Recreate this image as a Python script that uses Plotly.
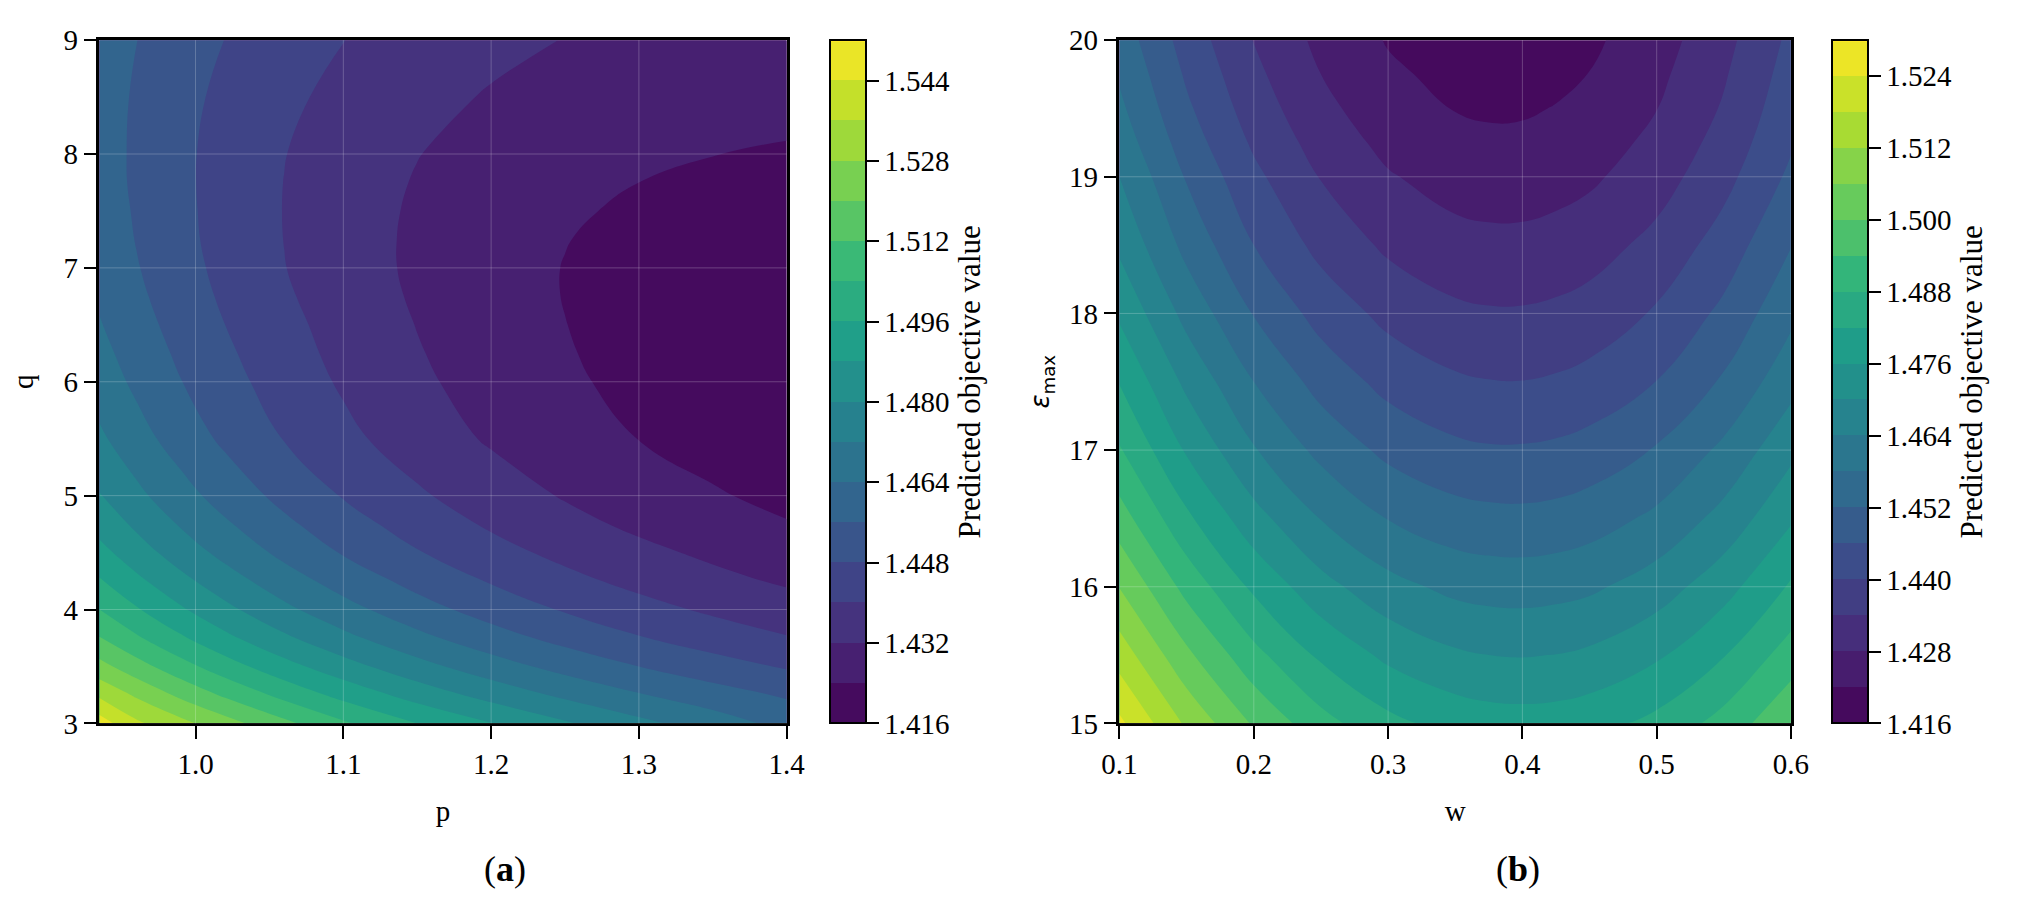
import plotly.graph_objects as go

# panel (a): q (rows) by p (columns), values
p_vals = [0.935, 0.96, 0.99, 1.02, 1.06, 1.10, 1.15, 1.20, 1.25, 1.30, 1.35, 1.40]
q_vals = [3.0, 3.25, 3.5, 3.75, 4.0, 4.25, 4.5, 4.75, 5.0, 5.5, 6.0, 6.25, 6.5, 6.75,
          7.0, 7.25, 7.5, 7.75, 8.0, 8.5, 9.0]
z_a = [
    [1.5480, 1.5375, 1.5304, 1.5233, 1.5140, 1.5051, 1.4960, 1.4883, 1.4810, 1.4741, 1.4680, 1.4615],
    [1.5345, 1.5268, 1.5183, 1.5107, 1.5016, 1.4935, 1.4847, 1.4771, 1.4704, 1.4646, 1.4595, 1.4550],
    [1.5227, 1.5152, 1.5070, 1.4996, 1.4908, 1.4831, 1.4747, 1.4675, 1.4613, 1.4560, 1.4513, 1.4472],
    [1.5124, 1.5051, 1.4971, 1.4899, 1.4814, 1.4741, 1.4661, 1.4593, 1.4535, 1.4485, 1.4442, 1.4405],
    [1.5040, 1.4968, 1.4890, 1.4820, 1.4738, 1.4667, 1.4591, 1.4527, 1.4473, 1.4427, 1.4387, 1.4354],
    [1.4968, 1.4898, 1.4822, 1.4755, 1.4676, 1.4608, 1.4535, 1.4474, 1.4422, 1.4378, 1.4341, 1.4310],
    [1.4905, 1.4836, 1.4762, 1.4697, 1.4620, 1.4554, 1.4485, 1.4427, 1.4379, 1.4339, 1.4305, 1.4277],
    [1.4851, 1.4785, 1.4713, 1.4650, 1.4576, 1.4512, 1.4445, 1.4389, 1.4343, 1.4304, 1.4271, 1.4244],
    [1.4804, 1.4739, 1.4670, 1.4608, 1.4537, 1.4475, 1.4411, 1.4358, 1.4314, 1.4277, 1.4247, 1.4222],
    [1.4734, 1.4671, 1.4604, 1.4545, 1.4477, 1.4420, 1.4360, 1.4311, 1.4271, 1.4239, 1.4213, 1.4192],
    [1.4683, 1.4624, 1.4562, 1.4507, 1.4444, 1.4390, 1.4334, 1.4288, 1.4251, 1.4221, 1.4197, 1.4177],
    [1.4663, 1.4606, 1.4546, 1.4493, 1.4431, 1.4379, 1.4325, 1.4281, 1.4245, 1.4216, 1.4192, 1.4173],
    [1.4645, 1.4590, 1.4531, 1.4480, 1.4421, 1.4370, 1.4318, 1.4276, 1.4241, 1.4213, 1.4190, 1.4172],
    [1.4630, 1.4576, 1.4518, 1.4468, 1.4410, 1.4361, 1.4311, 1.4271, 1.4238, 1.4212, 1.4191, 1.4175],
    [1.4618, 1.4565, 1.4508, 1.4459, 1.4402, 1.4355, 1.4307, 1.4269, 1.4238, 1.4214, 1.4195, 1.4181],
    [1.4609, 1.4557, 1.4501, 1.4453, 1.4399, 1.4354, 1.4307, 1.4271, 1.4242, 1.4220, 1.4203, 1.4191],
    [1.4603, 1.4552, 1.4498, 1.4451, 1.4398, 1.4354, 1.4310, 1.4276, 1.4249, 1.4229, 1.4215, 1.4204],
    [1.4599, 1.4547, 1.4496, 1.4450, 1.4399, 1.4357, 1.4315, 1.4283, 1.4258, 1.4240, 1.4226, 1.4218],
    [1.4596, 1.4547, 1.4496, 1.4452, 1.4402, 1.4362, 1.4322, 1.4292, 1.4269, 1.4253, 1.4241, 1.4234],
    [1.4596, 1.4551, 1.4503, 1.4462, 1.4416, 1.4379, 1.4342, 1.4314, 1.4293, 1.4277, 1.4267, 1.4260],
    [1.4602, 1.4561, 1.4517, 1.4479, 1.4436, 1.4401, 1.4366, 1.4339, 1.4318, 1.4302, 1.4290, 1.4282],
]

# panel (b): eps_max (rows) by w (columns)
w_vals = [0.1, 0.15, 0.2, 0.25, 0.3, 0.35, 0.375, 0.4, 0.425, 0.45, 0.5, 0.55, 0.6]
eps_vals = [15.0, 15.5, 16.0, 16.5, 17.0, 17.5, 18.0, 18.5, 19.0, 19.25, 19.5, 19.75, 20.0]
z_b = [
    [1.5253, 1.5110, 1.4993, 1.4902, 1.4837, 1.4798, 1.4788, 1.4785, 1.4788, 1.4798, 1.4837, 1.4902, 1.4993],
    [1.5153, 1.5013, 1.4898, 1.4809, 1.4746, 1.4709, 1.4700, 1.4697, 1.4701, 1.4711, 1.4751, 1.4817, 1.4908],
    [1.5058, 1.4920, 1.4808, 1.4721, 1.4660, 1.4624, 1.4616, 1.4614, 1.4619, 1.4629, 1.4670, 1.4737, 1.4828],
    [1.4967, 1.4832, 1.4722, 1.4638, 1.4578, 1.4544, 1.4537, 1.4535, 1.4540, 1.4552, 1.4593, 1.4660, 1.4752],
    [1.4885, 1.4753, 1.4645, 1.4563, 1.4505, 1.4473, 1.4466, 1.4466, 1.4471, 1.4483, 1.4525, 1.4593, 1.4685],
    [1.4817, 1.4686, 1.4580, 1.4498, 1.4441, 1.4409, 1.4402, 1.4401, 1.4407, 1.4419, 1.4461, 1.4528, 1.4619],
    [1.4750, 1.4621, 1.4517, 1.4438, 1.4383, 1.4352, 1.4346, 1.4346, 1.4352, 1.4364, 1.4407, 1.4474, 1.4566],
    [1.4688, 1.4562, 1.4460, 1.4382, 1.4329, 1.4300, 1.4295, 1.4295, 1.4302, 1.4314, 1.4358, 1.4426, 1.4518],
    [1.4640, 1.4515, 1.4414, 1.4337, 1.4285, 1.4256, 1.4250, 1.4251, 1.4258, 1.4270, 1.4313, 1.4381, 1.4472],
    [1.4614, 1.4491, 1.4391, 1.4315, 1.4264, 1.4235, 1.4230, 1.4231, 1.4238, 1.4251, 1.4295, 1.4362, 1.4453],
    [1.4592, 1.4470, 1.4371, 1.4296, 1.4245, 1.4218, 1.4213, 1.4214, 1.4222, 1.4235, 1.4279, 1.4346, 1.4438],
    [1.4573, 1.4452, 1.4354, 1.4280, 1.4230, 1.4204, 1.4199, 1.4201, 1.4208, 1.4221, 1.4266, 1.4334, 1.4425],
    [1.4554, 1.4435, 1.4338, 1.4265, 1.4216, 1.4190, 1.4186, 1.4188, 1.4196, 1.4209, 1.4254, 1.4322, 1.4413],
]

# ticks
a_xticks = [1.0, 1.1, 1.2, 1.3, 1.4]
a_yticks = [3, 4, 5, 6, 7, 8, 9]
a_cbticks = [1.416, 1.432, 1.448, 1.464, 1.480, 1.496, 1.512, 1.528, 1.544]
b_xticks = [0.1, 0.2, 0.3, 0.4, 0.5, 0.6]
b_yticks = [15, 16, 17, 18, 19, 20]
b_cbticks = [1.416, 1.428, 1.440, 1.452, 1.464, 1.476, 1.488, 1.500, 1.512, 1.524]

SERIF = "Liberation Serif"
SANS = "DejaVu Sans"
FS = 29
W, H = 2025, 916

# plot areas in pixels
A_X = (83, 783)
B_X = (1122, 1806)
TOP, BOT = 25, 733
ydom = [1 - BOT / H, 1 - TOP / H]


def font(size=FS, family=SERIF):
    return dict(family=family, size=size, color="black")


def cbar(x_px, ticks):
    return dict(
        x=x_px / W, xanchor="left", xpad=0,
        y=ydom[0], yanchor="bottom", ypad=0,
        len=ydom[1] - ydom[0], lenmode="fraction",
        thickness=36, thicknessmode="pixels",
        outlinewidth=2, outlinecolor="black",
        ticks="outside", ticklen=12, tickwidth=2, tickcolor="black",
        tickvals=ticks, tickformat=".3f", tickfont=font(),
        title=dict(text="Predicted objective value", side="right", font=font(31)),
    )


fig = go.Figure()

fig.add_trace(go.Contour(
    x=p_vals, y=q_vals, z=z_a,
    colorscale="Viridis", zmin=1.416, zmax=1.552, autocontour=False,
    contours=dict(start=1.416, end=1.552, size=0.008, coloring="fill", showlines=False),
    line=dict(width=0, smoothing=1.3),
    colorbar=cbar(827, a_cbticks),
    xaxis="x", yaxis="y", hoverinfo="skip",
))

fig.add_trace(go.Contour(
    x=w_vals, y=eps_vals, z=z_b,
    colorscale="Viridis", zmin=1.416, zmax=1.530, autocontour=False,
    contours=dict(start=1.416, end=1.530, size=0.006, coloring="fill", showlines=False),
    line=dict(width=0, smoothing=1.3),
    colorbar=cbar(1848, b_cbticks),
    xaxis="x2", yaxis="y2", hoverinfo="skip",
))

axis_common = dict(
    showline=True, linecolor="black", linewidth=2.5, mirror=True,
    ticks="outside", ticklen=13, tickwidth=2, tickcolor="black",
    showgrid=False, zeroline=False, tickfont=font(),
    layer="above traces",
)

fig.update_layout(
    width=W, height=H,
    margin=dict(l=0, r=0, t=0, b=0),
    paper_bgcolor="white", plot_bgcolor="white",
    showlegend=False,
    xaxis=dict(axis_common, domain=[A_X[0] / W, A_X[1] / W], range=[0.935, 1.4],
               tickvals=a_xticks, tickformat=".1f", anchor="y",
               title=dict(text="p", standoff=22, font=font())),
    yaxis=dict(axis_common, domain=ydom, range=[3, 9], tickvals=a_yticks, anchor="x",
               title=dict(text="q", standoff=22, font=font())),
    xaxis2=dict(axis_common, domain=[B_X[0] / W, B_X[1] / W], range=[0.1, 0.6],
                tickvals=b_xticks, tickformat=".1f", anchor="y2",
                title=dict(text="w", standoff=22, font=font())),
    yaxis2=dict(axis_common, domain=ydom, range=[15, 20], tickvals=b_yticks, anchor="x2",
                title=dict(text="<i>ε</i><sub>max</sub>", standoff=12, font=font(26, SANS))),
)

# faint white grid drawn over the filled contours
grid = dict(color="rgba(255,255,255,0.22)", width=1)
shapes = []
for xa, ya, xt, yt in [("x", "y", a_xticks, a_yticks), ("x2", "y2", b_xticks, b_yticks)]:
    for t in xt:
        shapes.append(dict(type="line", xref=xa, yref=ya + " domain", x0=t, x1=t, y0=0, y1=1,
                           line=grid, layer="above"))
    for t in yt:
        shapes.append(dict(type="line", xref=xa + " domain", yref=ya, x0=0, x1=1, y0=t, y1=t,
                           line=grid, layer="above"))
fig.update_layout(shapes=shapes)

# sub-figure labels
for txt, xc in [("(<b>a</b>)", 496), ("(<b>b</b>)", 1528)]:
    fig.add_annotation(text=txt, x=xc / W, y=1 - 884 / H, xref="paper", yref="paper",
                       showarrow=False, xanchor="center", yanchor="middle",
                       font=font(36))

fig.write_html("out.html", config={"displayModeBar": False},
               post_script="document.body.style.margin='0';")
